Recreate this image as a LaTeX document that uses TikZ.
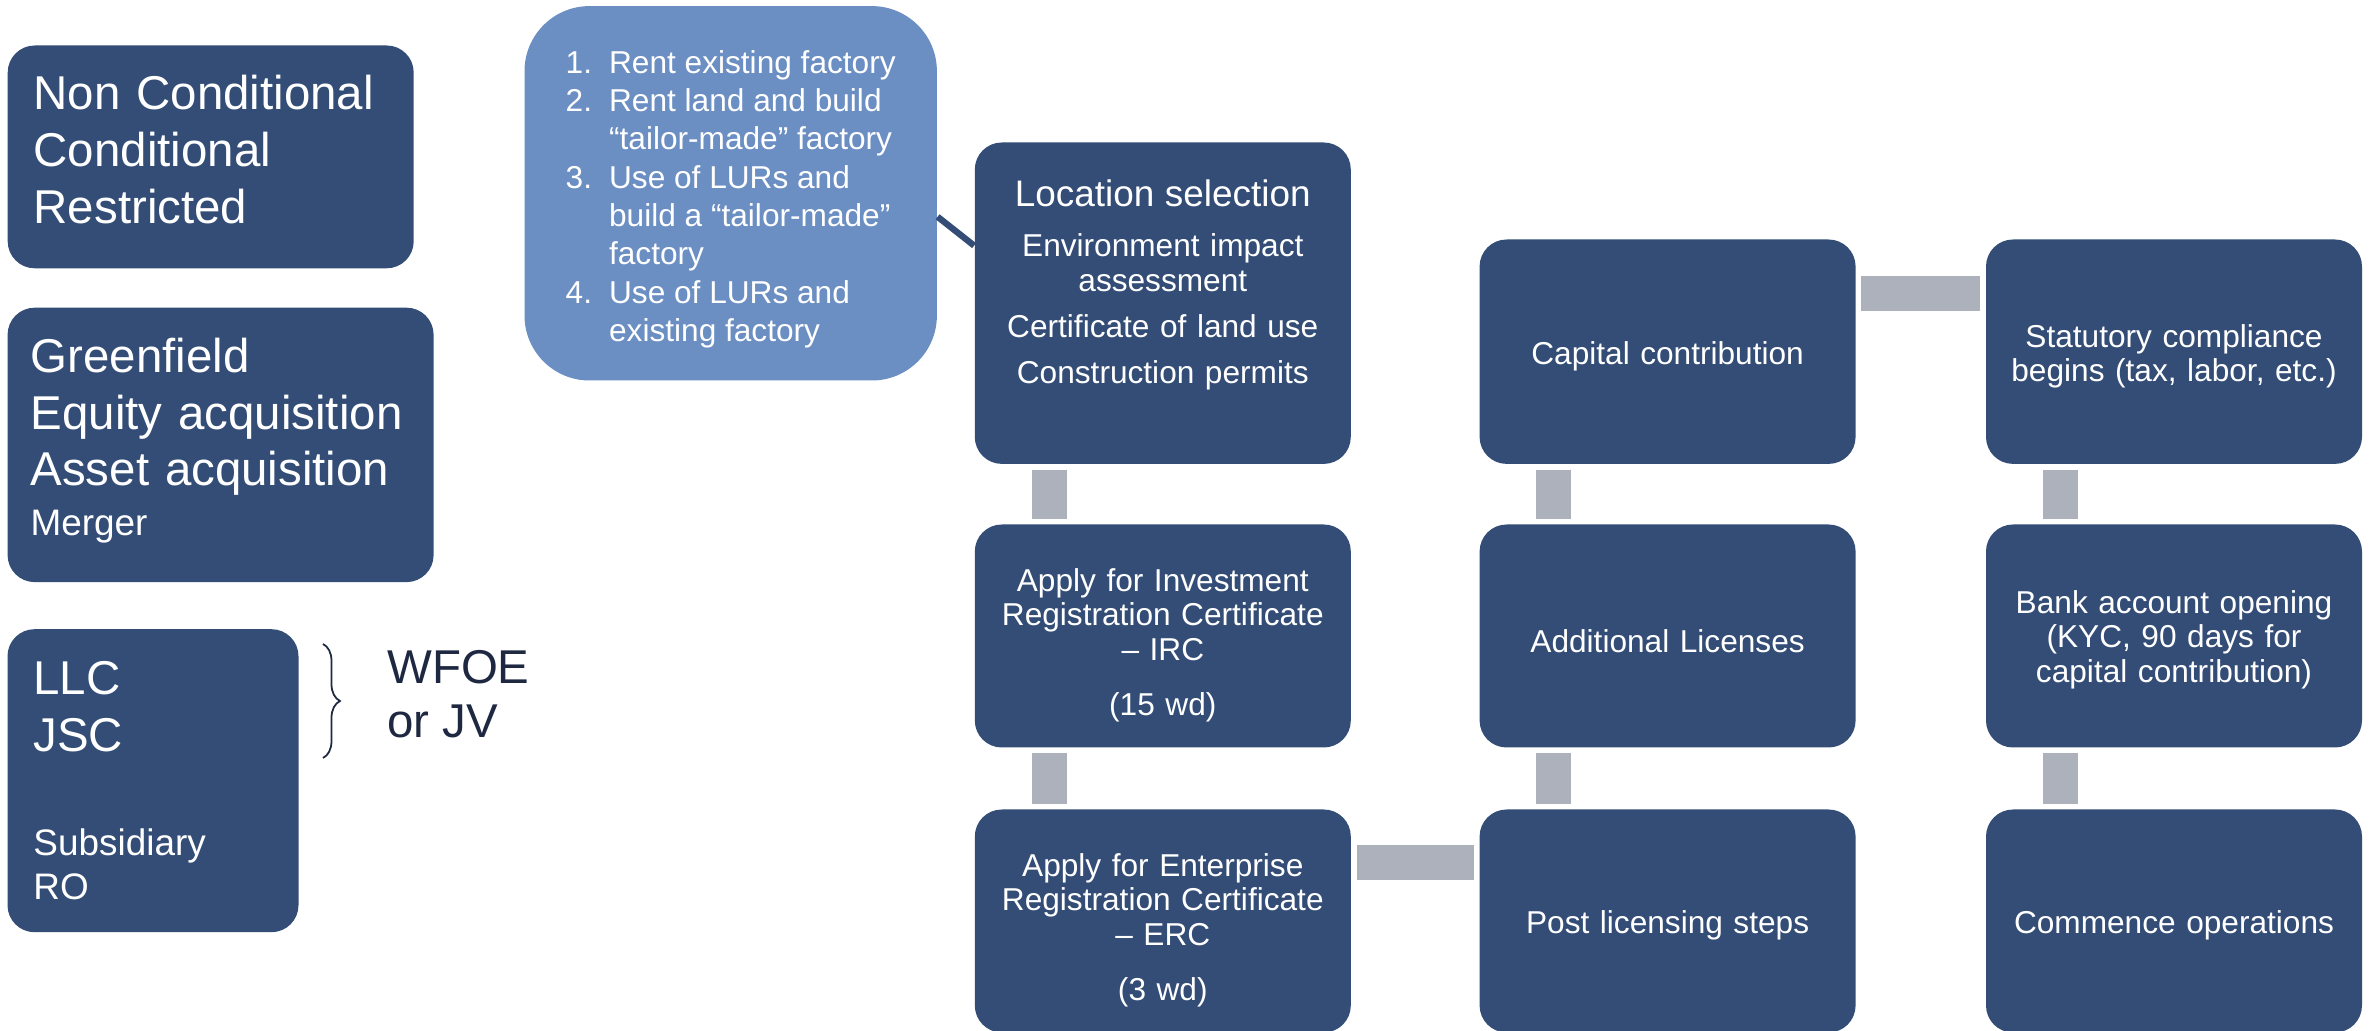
\documentclass[tikz,border=0pt]{standalone}
\usepackage{fontspec}
\setmainfont{Liberation Sans}
\usetikzlibrary{decorations.pathreplacing}

\definecolor{boxblue}{HTML}{334D76}
\definecolor{paleblue}{HTML}{6B8EC3}
\definecolor{bargray}{HTML}{ADB1BC}
\definecolor{inkblue}{HTML}{1E2841}

\begin{document}
\begin{tikzpicture}[
  kind/.style={fill=boxblue, text=white, rounded corners=0.27cm, align=left, inner ysep=0pt, font=\fontsize{13.5}{16.2}\selectfont},
  stepbox/.style={fill=boxblue, text=white, rounded corners=0.27cm, align=center, text width=3.5cm, inner xsep=0.13cm, inner ysep=0pt, minimum height=2.23cm, font=\fontsize{9}{9.8}\selectfont},
  bar/.style={draw=bargray, line width=0.35cm, shorten <=0.05cm, shorten >=0.05cm},
]
\useasboundingbox (0,0) rectangle (23.77,-10.31);
\fill[white] (0,0) rectangle (23.77,-10.31);
\clip (0,0) rectangle (23.77,-10.31);

% left column
\node[kind, text width=3.54cm, inner xsep=0.26cm, minimum height=2.228cm] (mode) at (2.107,-1.569) {Non Conditional\\Conditional\\Restricted\rule[-4.3pt]{0pt}{0pt}};
\node[kind, text width=3.8cm, inner xsep=0.23cm, minimum height=2.744cm] (entry) at (2.206,-4.449) {Greenfield\\Equity acquisition\\Asset acquisition\\[-2.2pt]{\fontsize{10.5}{12}\selectfont Merger\rule[-4.8pt]{0pt}{0pt}}};
\node[kind, text width=2.39cm, inner xsep=0.26cm, minimum height=3.03cm] (form) at (1.53,-7.807) {LLC\\JSC\\[13.3pt]{\fontsize{10.5}{12}\selectfont Subsidiary}\\[-3.7pt]{\fontsize{10.5}{12}\selectfont RO}};

\coordinate (btop) at (3.23,-6.44);
\coordinate (bbot) at (3.23,-7.58);
\draw[inkblue, line width=0.5pt, decorate, decoration={brace, amplitude=0.17cm}] (btop) -- (bbot);
\node[anchor=west, inner sep=0pt, align=left, text=inkblue, font=\fontsize{13.5}{15.5}\selectfont] (wfoe) at (3.866,-6.943) {WFOE\\or JV};

% premises options
\node[fill=paleblue, text=white, rounded corners=0.65cm, minimum width=4.124cm, minimum height=3.744cm, inner sep=0pt, font=\fontsize{9}{10.9}\selectfont] (lease) at (7.307,-1.933) {\raisebox{-1.8pt}[\height][\depth]{\begin{tabular}{@{}l@{\hspace{0.17cm}}l@{}}
1. & Rent existing factory\\
2. & Rent land and build\\
   & ``tailor-made'' factory\\
3. & Use of LURs and\\
   & build a ``tailor-made''\\
   & factory\\
4. & Use of LURs and\\
   & existing factory
\end{tabular}}};

% steps
\node[stepbox, minimum height=3.214cm] (loc) at (11.628,-3.032) {{\fontsize{10.5}{12}\selectfont Location selection}\\[4.4pt]Environment impact\\assessment\\[3.5pt]Certificate of land use\\[3.1pt]Construction permits\\[2.5pt]\mbox{}};
\node[stepbox] (irc) at (11.628,-6.36) {\rule{0pt}{11.8pt}Apply for Investment\\Registration Certificate\\\textendash{} IRC\\[6pt](15 wd)};
\node[stepbox] (erc) at (11.628,-9.21) {\rule{0pt}{11.8pt}Apply for Enterprise\\Registration Certificate\\\textendash{} ERC\\[6pt](3 wd)};
\node[stepbox, minimum height=2.244cm] (cap) at (16.676,-3.517) {\rule{0pt}{9.2pt}Capital contribution};
\node[stepbox] (lic) at (16.676,-6.36) {\rule{0pt}{9.2pt}Additional Licenses};
\node[stepbox] (post) at (16.676,-9.21) {\rule{0pt}{9.2pt}Post licensing steps};
\node[stepbox, minimum height=2.244cm] (stat) at (21.74,-3.517) {\rule{0pt}{9.2pt}Statutory compliance\\begins (tax, labor, etc.)};
\node[stepbox] (bank) at (21.74,-6.36) {\rule{0pt}{8.6pt}Bank account opening\\(KYC, 90 days for\\capital contribution)};
\node[stepbox] (ops) at (21.74,-9.21) {\rule{0pt}{9.2pt}Commence operations};

\draw[bar] ([xshift=0.75cm]loc.south west) -- ([xshift=0.75cm]irc.north west);
\draw[bar] ([xshift=0.75cm]irc.south west) -- ([xshift=0.75cm]erc.north west);
\draw[bar] ([yshift=-0.54cm]erc.north east) -- ([yshift=-0.54cm]post.north west);
\draw[bar] ([xshift=0.75cm]lic.south west) -- ([xshift=0.75cm]post.north west);
\draw[bar] ([xshift=0.75cm]cap.south west) -- ([xshift=0.75cm]lic.north west);
\draw[bar] ([yshift=-0.55cm]cap.north east) -- ([yshift=-0.55cm]stat.north west);
\draw[bar] ([xshift=0.75cm]stat.south west) -- ([xshift=0.75cm]bank.north west);
\draw[bar] ([xshift=0.75cm]bank.south west) -- ([xshift=0.75cm]ops.north west);

\draw[boxblue, line width=1.8pt] ([yshift=-0.235cm]lease.east) -- ([yshift=0.576cm]loc.west);
\end{tikzpicture}
\end{document}
